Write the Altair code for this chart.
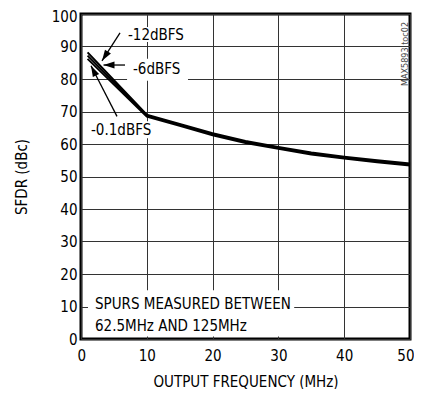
import altair as alt
import pandas as pd

FONT = "Liberation Sans Narrow, Arial Narrow, DejaVu Sans Condensed, sans-serif"

# ---- curve data ----
freq = [1, 10, 15, 20, 25, 30, 35, 40, 45, 50]
sfdr_m12 = [88.2, 69.0, 66.2, 63.3, 60.9, 59.1, 57.4, 56.1, 55.0, 54.0]
sfdr_m6 = [87.2, 68.7, 65.9, 63.0, 60.6, 58.8, 57.1, 55.8, 54.7, 53.7]
sfdr_m01 = [86.2, 68.4, 65.6, 62.7, 60.3, 58.5, 56.8, 55.5, 54.4, 53.4]
series = ["-12dBFS", "-6dBFS", "-0.1dBFS"]

x_ticks = [0, 10, 20, 30, 40, 50]
y_ticks = [0, 10, 20, 30, 40, 50, 60, 70, 80, 90, 100]

# ---- annotations ----
lab_text = ["-12dBFS", "-6dBFS", "-0.1dBFS", "SPURS MEASURED BETWEEN", "62.5MHz AND 125MHz"]
lab_x = [7.14, 7.9, 1.52, 2.13, 2.13]
lab_y = [93.6, 83.0, 64.4, 10.9, 4.0]

box_x = [6.69, 7.0, 1.06, 1.06]
box_x2 = [15.96, 16.26, 10.94, 32.4]
box_y = [96.0, 86.2, 67.0, 15.0]
box_y2 = [91.4, 79.5, 61.8, 0.8]

arr_x = [5.93, 6.69, 5.47]
arr_y = [94.2, 84.3, 68.5]
arr_tip_x = [3.19, 3.42, 1.52]
arr_tip_y = [85.6, 84.3, 84.1]
arr_angle = [212.8, 270, 333]

rows = []
for s, vals in zip(series, [sfdr_m12, sfdr_m6, sfdr_m01]):
    for f, v in zip(freq, vals):
        rows.append({"f": f, "v": v, "s": s})
curves = pd.DataFrame(rows)

labels = pd.DataFrame({"t": lab_text, "x": lab_x, "y": lab_y})
boxes = pd.DataFrame({"x": box_x, "x2": box_x2, "y": box_y, "y2": box_y2})
arrows = pd.DataFrame({"x": arr_x, "y": arr_y, "tx": arr_tip_x, "ty": arr_tip_y, "a": arr_angle})

xs = alt.Scale(domain=[0, 50], nice=False)
ys = alt.Scale(domain=[0, 100], nice=False)

xax = alt.Axis(values=x_ticks, title="OUTPUT FREQUENCY (MHz)", labelPadding=9, titlePadding=11,
               labelOverlap=False, labelFlush=True, labelFlushOffset=4)
yax = alt.Axis(values=y_ticks, title="SFDR (dBc)", labelPadding=4, titlePadding=22,
               labelOverlap=False, labelFlush=False,
               labelOffset=alt.ConditionalAxisNumber(
                   condition={"test": "datum.value == 100", "value": 2}, value=0))


def X(field):
    return alt.X(field, type="quantitative", scale=xs, axis=xax)


def Y(field):
    return alt.Y(field, type="quantitative", scale=ys, axis=yax)


base_lines = alt.Chart(curves).mark_line(color="black", strokeWidth=2).encode(
    x=X("f"), y=Y("v"), detail="s:N",
)

rects = alt.Chart(boxes).mark_rect(fill="white").encode(
    x=X("x"), x2="x2", y=Y("y"), y2="y2"
)

shafts = alt.Chart(arrows).mark_rule(color="black", strokeWidth=1.3).encode(
    x=X("x"), y=Y("y"), x2="tx", y2="ty"
)

heads = alt.Chart(arrows).mark_point(
    shape="M0,0L0.32,1L-0.32,1Z", filled=True, color="black", opacity=1, size=484, strokeWidth=0
).encode(
    x=X("tx"), y=Y("ty"), angle=alt.Angle("a:Q", scale=None)
)

texts = alt.Chart(labels).mark_text(
    align="left", baseline="middle", font=FONT, fontSize=15, color="black"
).encode(x=X("x"), y=Y("y"), text="t:N")

tag = alt.Chart(pd.DataFrame({"t": ["MAX5893 toc02"]})).mark_text(
    angle=270, align="center", baseline="alphabetic", font=FONT, fontSize=9, color="#444"
).encode(x=alt.value(327), y=alt.value(40), text="t:N")

chart = alt.layer(rects, base_lines, shafts, heads, texts, tag).properties(
    width=329, height=325,
    autosize=alt.AutoSizeParams(type="none"),
    padding={"left": 73, "top": 6, "right": 4, "bottom": 50},
    background="white",
).configure_axis(
    labelFont=FONT, titleFont=FONT, labelFontSize=15, titleFontSize=15,
    titleFontWeight="normal", labelColor="black", titleColor="black",
    grid=True, gridColor="#333", gridWidth=1, domain=False, ticks=False,
).configure_view(stroke="black", strokeWidth=3)

chart.save("out.html", embed_options={"renderer": "svg", "actions": False})
